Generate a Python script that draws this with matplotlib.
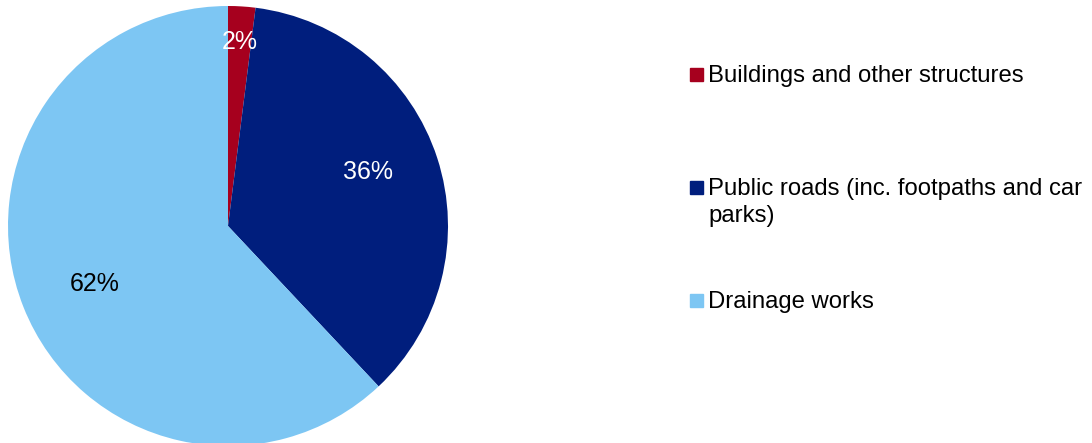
import matplotlib
matplotlib.use('Agg')
import numpy as np
import matplotlib.pyplot as plt
from matplotlib.patches import Rectangle

# %% data
categories = ['Buildings and other structures',
              'Public roads (inc. footpaths and car\nparks)',
              'Drainage works']
shares = [2, 36, 62]  # per cent
colours = ['#A6001E', '#001E7D', '#7DC6F3']
label_colours = ['white', 'white', 'black']
label_dist = [0.84, 0.68, 0.66]  # radial position of each % label
label_turn = [0, 3, 2]           # small angular nudge (deg, anticlockwise)

plt.rcParams['font.family'] = ['Liberation Sans', 'DejaVu Sans']

W, H = 1092, 443
fig = plt.figure(figsize=(W / 100, H / 100), dpi=100)

# pie axes: centre (228, 226) px from top-left, radius 220 px
cx, cy, r = 228, 226, 220
ax = fig.add_axes([(cx - r) / W, (H - cy - r) / H, 2 * r / W, 2 * r / H])
wedges, _ = ax.pie(shares, colors=colours, startangle=90, counterclock=False,
                   radius=1, wedgeprops=dict(linewidth=0))
ax.set_xlim(-1, 1)
ax.set_ylim(-1, 1)
ax.set_aspect('equal')
ax.axis('off')

# percentage labels
for w, s, c, d, t in zip(wedges, shares, label_colours, label_dist, label_turn):
    ang = np.deg2rad((w.theta1 + w.theta2) / 2 + t)
    ax.text(d * np.cos(ang), d * np.sin(ang), f'{s}%', color=c,
            fontsize=18, ha='center', va='center')

# legend drawn by hand: square marker + label lines
baselines = [82, 195, 308]  # first-line baseline, px from top
line_step = 27
for lab, col, yb in zip(categories, colours, baselines):
    fig.patches.append(Rectangle((690 / W, (H - yb + 1) / H), 13 / W, 13 / H,
                                 transform=fig.transFigure, color=col))
    for k, line in enumerate(lab.split('\n')):
        fig.text(708 / W, (H - yb - k * line_step) / H, line, fontsize=17.2,
                 ha='left', va='baseline')

fig.savefig('out.png', dpi=100)
